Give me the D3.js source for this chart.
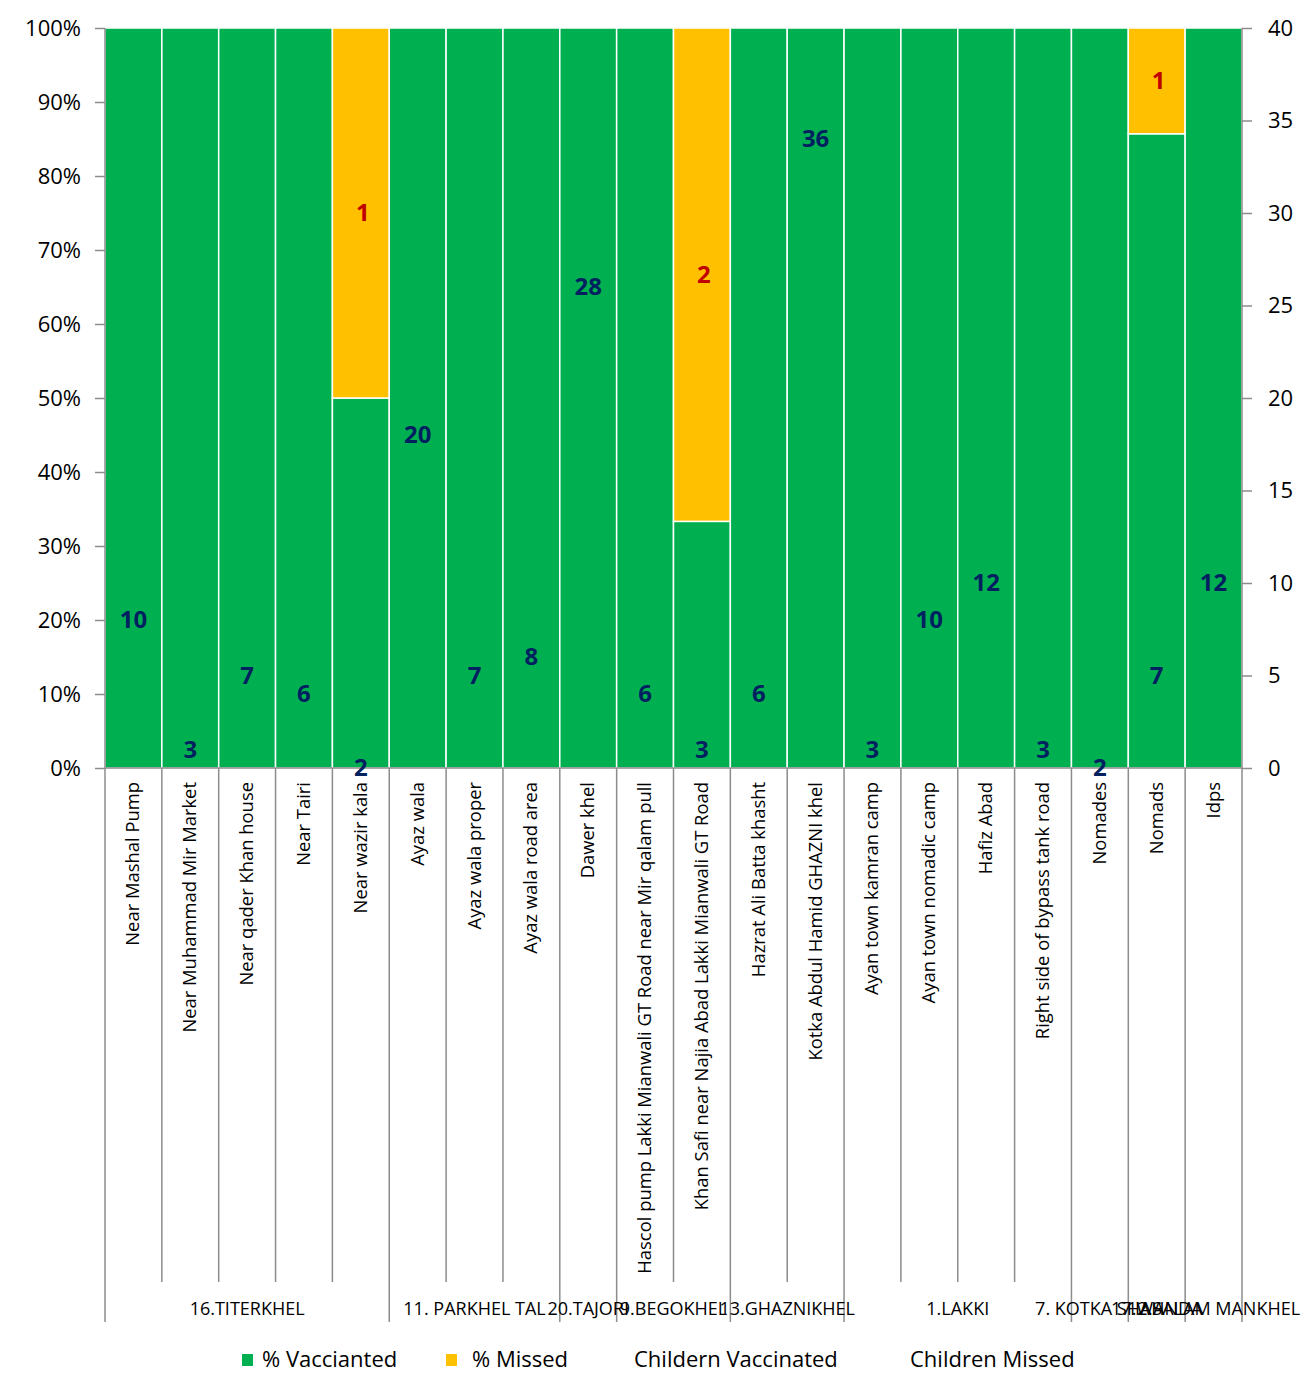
<!DOCTYPE html>
<html><head><meta charset="utf-8">
<script src="https://cdn.jsdelivr.net/npm/d3@7"></script>
<style>body{margin:0;background:#fff;} svg{display:block;font-family:"Open Sans",sans-serif;}</style>
</head><body><svg id="c" width="1304" height="1374"></svg>
<script>
const categories = ["Near Mashal Pump","Near Muhammad Mir Market","Near qader Khan house","Near Tairi","Near wazir kala","Ayaz wala","Ayaz wala proper","Ayaz wala road area","Dawer khel","Hascol pump Lakki Mianwali GT Road near Mir qalam pull","Khan Safi near Najia Abad Lakki Mianwali GT Road","Hazrat Ali Batta khasht","Kotka Abdul Hamid GHAZNI khel","Ayan town kamran camp","Ayan town nomadic camp","Hafiz Abad","Right side of bypass tank road","Nomades","Nomads","Idps"];
const groups = ["16.TITERKHEL","16.TITERKHEL","16.TITERKHEL","16.TITERKHEL","16.TITERKHEL","11. PARKHEL TAL","11. PARKHEL TAL","11. PARKHEL TAL","20.TAJORI","9.BEGOKHEL","9.BEGOKHEL","13.GHAZNIKHEL","13.GHAZNIKHEL","1.LAKKI","1.LAKKI","1.LAKKI","1.LAKKI","7. KOTKA SHAH","17.WANDA","12.SALAM MANKHEL"];
const pctVaccinated = [1,1,1,1,0.5,1,1,1,1,1,0.3333,1,1,1,1,1,1,1,0.8571,1];
const pctMissed = [0,0,0,0,0.5,0,0,0,0,0,0.6667,0,0,0,0,0,0,0,0.1429,0];
const childrenVaccinated = [10,3,7,6,2,20,7,8,28,6,3,6,36,3,10,12,3,2,7,12];
const childrenMissed = [null,null,null,null,1,null,null,null,null,null,2,null,null,null,null,null,null,null,1,null];
const leftTicks = [0,0.1,0.2,0.3,0.4,0.5,0.6,0.7,0.8,0.9,1];
const rightTicks = [0,5,10,15,20,25,30,35,40];

const svg = d3.select("#c");
const L=105,R=1242,T=28,B=768;
const x = d3.scaleBand().domain(d3.range(categories.length)).range([L,R]).padding(0);
const y = d3.scaleLinear().domain([0,1]).range([B,T]);
const y2 = d3.scaleLinear().domain([0,40]).range([B,T]);
const GREEN="#00B050", ORANGE="#FFC000", GRAY="#8c8c8c";

svg.append("line").attr("x1",L).attr("x2",R).attr("y1",T).attr("y2",T).attr("stroke","#d9d9d9").attr("stroke-width",1);

const bars = svg.append("g");
categories.forEach((c,i)=>{
  const v=pctVaccinated[i], m=pctMissed[i];
  bars.append("rect").attr("x",x(i)).attr("width",x.bandwidth()).attr("y",y(v)).attr("height",y(0)-y(v))
    .attr("fill",GREEN).attr("stroke","#fff").attr("stroke-width",1.5);
  if(m>0){
    bars.append("rect").attr("x",x(i)).attr("width",x.bandwidth()).attr("y",y(v+m)).attr("height",y(v)-y(v+m))
      .attr("fill",ORANGE).attr("stroke","#fff").attr("stroke-width",1.5);
  }
});

const axL = svg.append("g").attr("transform",`translate(${L},0)`).call(d3.axisLeft(y).tickValues(leftTicks).tickFormat(d3.format(".0%")).tickSize(10).tickPadding(14));
const axR = svg.append("g").attr("transform",`translate(${R},0)`).call(d3.axisRight(y2).tickValues(rightTicks).tickSize(10).tickPadding(16));
[axL,axR].forEach(a=>{
  a.selectAll("path,line").attr("stroke",GRAY).attr("stroke-width",1.5);
  a.selectAll("text").attr("font-size",22).attr("fill","#000").attr("font-family","'Open Sans',sans-serif");
});
axL.select(".domain").attr("d",`M0,${B}V${T}`);
axR.select(".domain").attr("d",`M0,${B}V${T}`);

svg.append("line").attr("x1",L).attr("x2",R).attr("y1",B).attr("y2",B).attr("stroke",GRAY).attr("stroke-width",1.5);
const catG = svg.append("g");
for(let i=0;i<=categories.length;i++){
  const xx = i<categories.length ? x(i) : R;
  const isGroup = i===0 || i===categories.length || groups[i]!==groups[i-1];
  catG.append("line").attr("x1",xx).attr("x2",xx).attr("y1",B).attr("y2",isGroup?1322:1282).attr("stroke",GRAY).attr("stroke-width",1.5);
}
categories.forEach((c,i)=>{
  const cx = x(i)+x.bandwidth()/2;
  catG.append("text").attr("transform",`translate(${cx+6},782) rotate(-90)`).attr("text-anchor","end")
    .attr("font-size",18.4).attr("fill","#000").text(c);
});
const gl = [];
groups.forEach((g,i)=>{ if(i===0||groups[i-1]!==g) gl.push({name:g,start:i,end:i}); else gl[gl.length-1].end=i; });
gl.forEach(g=>{
  const cx=(x(g.start)+x(g.end)+x.bandwidth())/2;
  svg.append("text").attr("x",cx).attr("y",1315).attr("text-anchor","middle").attr("font-size",18).attr("fill","#000").text(g.name);
});

const lab = svg.append("g").attr("font-weight","bold").attr("text-anchor","middle").attr("font-size",24);
childrenVaccinated.forEach((v,i)=>{
  lab.append("text").attr("x",x(i)+x.bandwidth()/2).attr("y",y2(v)+45).attr("fill","#002060").text(v);
});
childrenMissed.forEach((m,i)=>{
  if(m==null) return;
  const mid=(pctVaccinated[i]+1)/2;
  lab.append("text").attr("x",x(i)+x.bandwidth()/2+2).attr("y",y(mid)+8).attr("fill","#C00000").text(m);
});

const leg = svg.append("g").attr("font-size",22).attr("fill","#000");
leg.append("rect").attr("x",242).attr("y",1354).attr("width",11).attr("height",12).attr("fill",GREEN);
leg.append("text").attr("x",262).attr("y",1367).text("% Vaccianted");
leg.append("rect").attr("x",446).attr("y",1354).attr("width",11).attr("height",12).attr("fill",ORANGE);
leg.append("text").attr("x",472).attr("y",1367).text("% Missed");
leg.append("text").attr("x",634).attr("y",1367).text("Childern Vaccinated");
leg.append("text").attr("x",910).attr("y",1367).text("Children Missed");
</script></body></html>
